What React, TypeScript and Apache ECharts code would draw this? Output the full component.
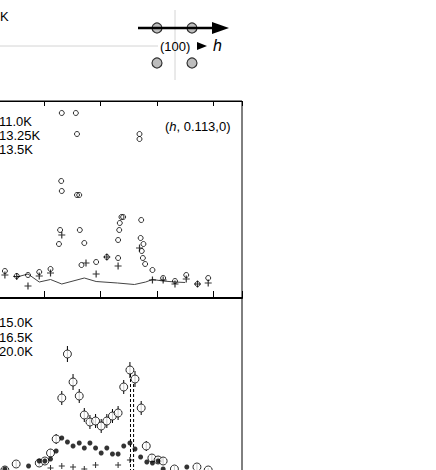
import React, { useEffect, useRef } from "react";
import * as echarts from "echarts";

// ---- data (h in reduced units, intensity in arbitrary counts) ----
const topTemps = ["11.0K", "13.25K", "13.5K"];
const bottomTemps = ["15.0K", "16.5K", "20.0K"];
const scanLabel = "0.113,0)";

// 11.0 K : open circles
const scan110: number[][] = [
  [0.30, 27], [0.51, 22], [0.71, 23], [0.91, 26], [1.11, 29], [1.26, 54], [1.28, 68], [1.30, 117],
  [1.31, 107], [1.31, 185], [1.56, 185], [1.58, 164], [1.58, 103], [1.62, 103], [1.63, 68],
  [1.66, 33], [1.71, 55], [1.92, 36], [2.11, 41], [2.31, 40], [2.31, 58], [2.33, 68], [2.34, 75],
  [2.37, 81], [2.40, 81], [2.69, 164], [2.69, 159], [2.71, 60], [2.72, 78], [2.73, 47], [2.75, 40],
  [2.76, 54], [2.79, 34], [2.92, 28], [3.11, 20], [3.32, 17], [3.52, 23], [3.72, 14], [3.91, 20],
];
// 13.25 K : crosses
const scan1325: number[][] = [
  [0.30, 23], [0.51, 21.5], [0.71, 12], [0.91, 22], [1.11, 25], [1.31, 63], [1.74, 35], [1.92, 24],
  [2.11, 41], [2.31, 32], [2.69, 50], [2.92, 18], [3.11, 18], [3.32, 14], [3.52, 19], [3.72, 14], [3.91, 15],
];
// 13.5 K : solid line
const scan135: number[][] = [
  [0.51, 21], [0.71, 24], [0.91, 16], [1.11, 18.5], [1.31, 14], [1.71, 20], [1.92, 16.5], [2.3, 15],
  [2.6, 13.5], [2.8, 16], [2.92, 18.5], [3.11, 17], [3.32, 16], [3.5, 15.5],
];
// 15.0 K : open circles with error bars [h, I, err]
const scan150: number[][] = [
  [0.30, 28, 2], [0.50, 34, 3], [0.91, 35, 3], [1.01, 37, 3], [1.11, 45, 4], [1.21, 59, 5],
  [1.31, 100, 7], [1.41, 144, 8], [1.51, 116, 8], [1.62, 102, 7], [1.71, 83, 7], [1.81, 76, 7],
  [1.91, 77, 7], [2.01, 72, 7], [2.11, 77, 7], [2.21, 82, 7], [2.31, 85, 7], [2.41, 111, 7],
  [2.52, 128, 8], [2.61, 119, 8], [2.72, 90, 7], [2.81, 52, 5], [2.91, 40, 4], [3.02, 38, 4],
  [3.11, 37, 4], [3.31, 29, 3], [3.71, 31, 3], [3.91, 28, 2],
];
// 16.5 K : filled dots
const scan165: number[][] = [
  [0.30, 29], [0.72, 32], [0.91, 37], [1.01, 37], [1.11, 39], [1.21, 47], [1.31, 60], [1.41, 56],
  [1.51, 52], [1.62, 55], [1.71, 50], [1.81, 55], [1.91, 50], [2.01, 45], [2.11, 50], [2.21, 44],
  [2.31, 44], [2.41, 52], [2.52, 55], [2.61, 49], [2.71, 41], [2.82, 36], [2.92, 35], [3.02, 37],
  [3.11, 29], [3.53, 31],
];
// 20.0 K : crosses
const scan200: number[][] = [
  [1.11, 30], [1.31, 32], [1.51, 31], [1.71, 29], [1.91, 33], [2.31, 33], [2.52, 38],
];
// dashed guide lines in lower panel
const dashA: number[][] = [[2.53, 124], [2.53, 0]];
const dashB: number[][] = [[2.585, 114], [2.585, 0]];

const FONT = "Liberation Sans, Arial, Helvetica, sans-serif";
const PLUS =
  "path://M-0.17,-1L0.17,-1L0.17,-0.17L1,-0.17L1,0.17L0.17,0.17L0.17,1L-0.17,1L-0.17,0.17L-1,0.17L-1,-0.17L-0.17,-0.17Z";
const OX = 12; // chart canvas is shifted left by this many pixels

export default function App() {
  const ref = useRef<HTMLDivElement>(null);
  useEffect(() => {
    if (!ref.current) return;
    const chart = echarts.init(ref.current, null, { renderer: "svg" });

    const xBase = {
      type: "value" as const,
      min: 0,
      max: 4.51,
      interval: 1,
      axisLabel: { show: false },
      splitLine: { show: false },
    };

    const txt = (x: number, y: number, text: string, extra: any = {}) => ({
      type: "text",
      x: x + OX,
      y,
      style: {
        text,
        fontFamily: FONT,
        fontSize: 13,
        fill: "#000",
        align: "left",
        verticalAlign: "middle",
        ...extra,
      },
      z: 10,
    });
    const seg = (x1: number, y1: number, x2: number, y2: number, stroke: string, lw: number) => ({
      type: "line",
      shape: { x1: x1 + OX, y1, x2: x2 + OX, y2 },
      style: { stroke, lineWidth: lw },
    });
    const dot = (cx: number, cy: number) => ({
      type: "circle",
      shape: { cx: cx + OX, cy, r: 5 },
      style: { fill: "#bdbdbd", stroke: "#333", lineWidth: 1.2 },
    });
    const tri = (pts: number[][]) => ({
      type: "polygon",
      shape: { points: pts.map((p) => [p[0] + OX, p[1]]) },
      style: { fill: "#000" },
    });

    const option: any = {
      animation: false,
      backgroundColor: "#fff",
      grid: [
        { left: 0, top: 101, width: 254, height: 197, show: true, borderColor: "#000", borderWidth: 1 },
        { left: 0, top: 298, width: 254, height: 200, show: true, borderColor: "#000", borderWidth: 1 },
      ],
      xAxis: [
        {
          ...xBase, gridIndex: 0, position: "bottom",
          axisLine: { show: true, lineStyle: { color: "#000", width: 2 } },
          axisTick: { show: true, inside: true, length: 7, lineStyle: { color: "#000", width: 1 } },
        },
        {
          ...xBase, gridIndex: 0, position: "top",
          axisLine: { show: true, lineStyle: { color: "#000", width: 1 } },
          axisTick: { show: true, inside: true, length: 5, lineStyle: { color: "#000", width: 1 } },
        },
        {
          ...xBase, gridIndex: 1, position: "top",
          axisLine: { show: true, lineStyle: { color: "#000", width: 2 } },
          axisTick: { show: true, inside: true, length: 6, lineStyle: { color: "#000", width: 1 } },
        },
      ],
      yAxis: [
        { type: "value", gridIndex: 0, min: 0, max: 197, show: false },
        { type: "value", gridIndex: 1, min: 0, max: 200, show: false },
      ],
      series: [
        {
          name: topTemps[2], type: "line", xAxisIndex: 0, yAxisIndex: 0, data: scan135,
          symbol: "none", lineStyle: { color: "#444", width: 1 }, z: 1,
        },
        {
          name: topTemps[1], type: "scatter", xAxisIndex: 0, yAxisIndex: 0, data: scan1325,
          symbol: PLUS, symbolSize: 7, itemStyle: { color: "#000" }, z: 2,
        },
        {
          name: topTemps[0], type: "scatter", xAxisIndex: 0, yAxisIndex: 0, data: scan110,
          symbol: "circle", symbolSize: 5,
          itemStyle: { color: "rgba(255,255,255,0)", borderColor: "#000", borderWidth: 1 }, z: 3,
        },
        {
          name: "dashA", type: "line", xAxisIndex: 2, yAxisIndex: 1, data: dashA, symbol: "none",
          lineStyle: { color: "#000", width: 1, type: [3, 2] }, z: 1,
        },
        {
          name: "dashB", type: "line", xAxisIndex: 2, yAxisIndex: 1, data: dashB, symbol: "none",
          lineStyle: { color: "#000", width: 1, type: [3, 2] }, z: 1,
        },
        {
          name: bottomTemps[2], type: "scatter", xAxisIndex: 2, yAxisIndex: 1, data: scan200,
          symbol: PLUS, symbolSize: 6, itemStyle: { color: "#000" }, z: 2,
        },
        {
          name: "err", type: "custom", xAxisIndex: 2, yAxisIndex: 1, data: scan150, z: 3,
          renderItem: (_p: any, api: any) => {
            const x = api.value(0), y = api.value(1), e = api.value(2);
            const a = api.coord([x, y + e]);
            const b = api.coord([x, y - e]);
            return {
              type: "line",
              shape: { x1: a[0], y1: a[1], x2: b[0], y2: b[1] },
              style: { stroke: "#000", lineWidth: 1 },
            };
          },
        },
        {
          name: bottomTemps[0], type: "scatter", xAxisIndex: 2, yAxisIndex: 1, data: scan150,
          symbol: "circle", symbolSize: 8,
          itemStyle: { color: "#fff", borderColor: "#000", borderWidth: 1 }, z: 4,
        },
        {
          name: bottomTemps[1], type: "scatter", xAxisIndex: 2, yAxisIndex: 1, data: scan165,
          symbol: "circle", symbolSize: 5, itemStyle: { color: "#000" }, z: 5,
        },
      ],
      graphic: [
        // reciprocal-space sketch
        seg(0, 46, 158, 46, "#d4d4d4", 1),
        seg(175, 10, 175, 80, "#d4d4d4", 1),
        dot(157, 28),
        dot(192, 28),
        dot(157, 63),
        dot(192, 63),
        seg(138, 28, 214, 28, "#000", 2.5),
        tri([[212, 22], [229, 28], [212, 34]]),
        txt(160, 46, "(100)", { fontSize: 13 }),
        tri([[197, 42], [207, 46], [197, 50]]),
        txt(213, 45, "h", { fontSize: 16, fontStyle: "italic" }),
        txt(0, 16, "K", { fontSize: 13 }),
        // legends
        txt(-1, 121, topTemps[0]),
        txt(-1, 135.5, topTemps[1]),
        txt(-1, 149.5, topTemps[2]),
        txt(-1, 322, bottomTemps[0]),
        txt(-1, 337, bottomTemps[1]),
        txt(-1, 351.5, bottomTemps[2]),
        {
          type: "text", x: 165 + OX, y: 126, z: 10,
          style: {
            text: "({i|h}, " + scanLabel,
            fontFamily: FONT, fontSize: 13, fill: "#000", verticalAlign: "middle",
            rich: { i: { fontStyle: "italic", fontFamily: FONT, fontSize: 13, fill: "#000" } },
          },
        },
      ],
    };
    chart.setOption(option);
    return () => chart.dispose();
  }, []);
  return (
    <div style={{ position: "fixed", left: 0, top: 0, width: 436, height: 470, background: "#fff", overflow: "hidden" }}>
      <div ref={ref} style={{ position: "absolute", left: -OX, top: 0, width: 436 + OX, height: 500 }} />
    </div>
  );
}
